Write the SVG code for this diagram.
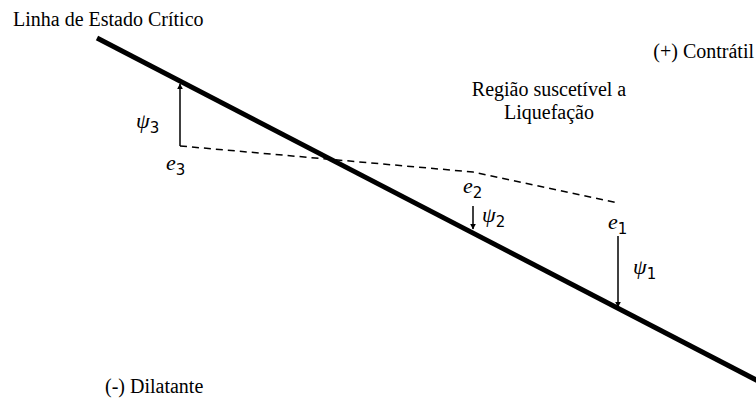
<svg xmlns="http://www.w3.org/2000/svg" width="756" height="399" viewBox="0 0 756 399">
<defs>
<style>
.t{font-family:"Liberation Serif","Times New Roman",serif;font-size:20px;fill:#000}
.m{font-family:"Liberation Serif","DejaVu Serif",serif;font-style:italic;font-size:22px;fill:#000}
.s{font-family:"DejaVu Sans","Liberation Sans",sans-serif;font-style:normal;font-size:15px}
.arr{stroke:#000;stroke-width:1.5;fill:none;marker-end:url(#ah)}
</style>
<marker id="ah" viewBox="0 0 10 10" refX="9" refY="5" markerWidth="6" markerHeight="6" orient="auto" markerUnits="userSpaceOnUse">
<path d="M0,0 L10,5 L0,10 z" fill="#000"/>
</marker>
</defs>
<rect width="756" height="399" fill="#fff"/>
<g id="csl">
<line x1="97" y1="38" x2="760" y2="382" stroke="#000" stroke-width="5"/>
<text class="t" x="13" y="26">Linha de Estado Crítico</text>
</g>
<g id="labels">
<text class="t" x="754" y="58" text-anchor="end">(+) Contrátil</text>
<text class="t" x="549" y="96" text-anchor="middle">Região suscetível a</text>
<text class="t" x="549" y="119" text-anchor="middle">Liquefação</text>
<text class="t" x="105" y="393">(-) Dilatante</text>
</g>
<g id="connectors">
<polyline points="180,146 473,172 618,203" fill="none" stroke="#000" stroke-width="1.5" stroke-dasharray="7,5"/>
<line class="arr" x1="180" y1="146" x2="180" y2="84"/>
<line class="arr" x1="473" y1="206" x2="473" y2="229"/>
<line class="arr" x1="618" y1="236" x2="618" y2="307"/>
</g>
<g id="e3"><text class="m" x="166" y="170">e<tspan class="s" dy="5">3</tspan></text></g>
<g id="psi3"><text class="m" x="136" y="128">ψ<tspan class="s" dy="5">3</tspan></text></g>
<g id="e2"><text class="m" x="463" y="193">e<tspan class="s" dy="5">2</tspan></text></g>
<g id="psi2"><text class="m" x="482" y="222">ψ<tspan class="s" dy="5">2</tspan></text></g>
<g id="e1"><text class="m" x="608" y="229">e<tspan class="s" dy="5">1</tspan></text></g>
<g id="psi1"><text class="m" x="633" y="274">ψ<tspan class="s" dy="5">1</tspan></text></g>
</svg>
